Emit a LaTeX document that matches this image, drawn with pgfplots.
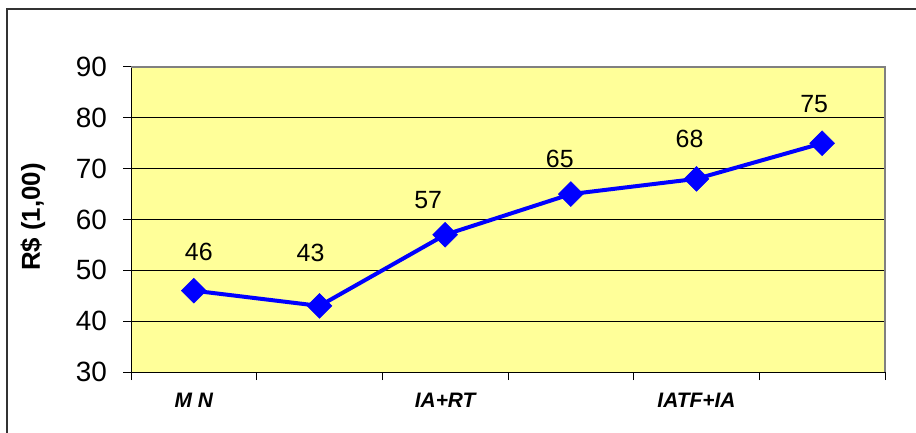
\documentclass[border=0pt]{standalone}
\usepackage{pgfplots}
\pgfplotsset{compat=1.18}
\usepackage{fontspec}
\setmainfont{Liberation Sans}
\definecolor{yfill}{RGB}{255,255,153}
\definecolor{lineblue}{RGB}{0,0,255}
\begin{document}
\begin{tikzpicture}[x=1bp,y=1bp]
\useasboundingbox (0,0) rectangle (916,432);
\draw[line width=1.5bp, black!80] (7,-5) -- (7,423) -- (925,423);
\node[rotate=90, font=\fontsize{26}{26}\selectfont\bfseries] at (33,215) {R\$ (1,00)};
\begin{axis}[
  at={(131bp,60bp)}, anchor=south west,
  scale only axis, width=754bp, height=305bp,
  xmin=0.5, xmax=6.5, ymin=30, ymax=90,
  axis background/.style={fill=yfill},
  axis x line*=bottom, axis y line*=left,
  axis line style={black, line width=1bp, -},
  tick align=outside,
  major tick length=8bp,
  tick style={black, line width=1bp},
  xtick={0.5,1.5,...,6.5}, xticklabels={},
  extra x ticks={1,3,5},
  extra x tick labels={M N, IA+RT, IATF+IA},
  extra x tick style={major tick length=0pt,
    xticklabel style={font=\fontsize{21}{21}\selectfont\bfseries\itshape, anchor=north, inner sep=0pt, yshift=-21bp}},
  ytick={30,40,...,90},
  ymajorgrids, grid style={black, line width=0.8bp},
  yticklabel style={font=\fontsize{28}{28}\selectfont, anchor=east, inner sep=0pt, xshift=-16bp},
  /pgf/number format/assume math mode=true,
  clip=false,
]
\addplot[color=lineblue, line width=4bp, mark=square*, mark size=8.8bp,
  mark options={rotate=45, fill=lineblue, draw=lineblue, line width=0.5bp},
  visualization depends on={value \thisrow{dx}\as\dx},
  visualization depends on={value \thisrow{dy}\as\dy},
  nodes near coords,
  nodes near coords style={font=\fontsize{25}{25}\selectfont, anchor=south, inner sep=0pt, xshift=\dx bp, yshift=\dy bp, text=black}]
  table[x=x, y=y] {
x y dx dy
1 46 5 30
2 43 -9 44
3 57 -17 26
4 65 -11 26
5 68 -7 31
6 75 -8 30
};
\end{axis}
\draw[line width=1.5bp, black!50] (131,365) -- (885,365) -- (885,60);
\end{tikzpicture}
\end{document}
